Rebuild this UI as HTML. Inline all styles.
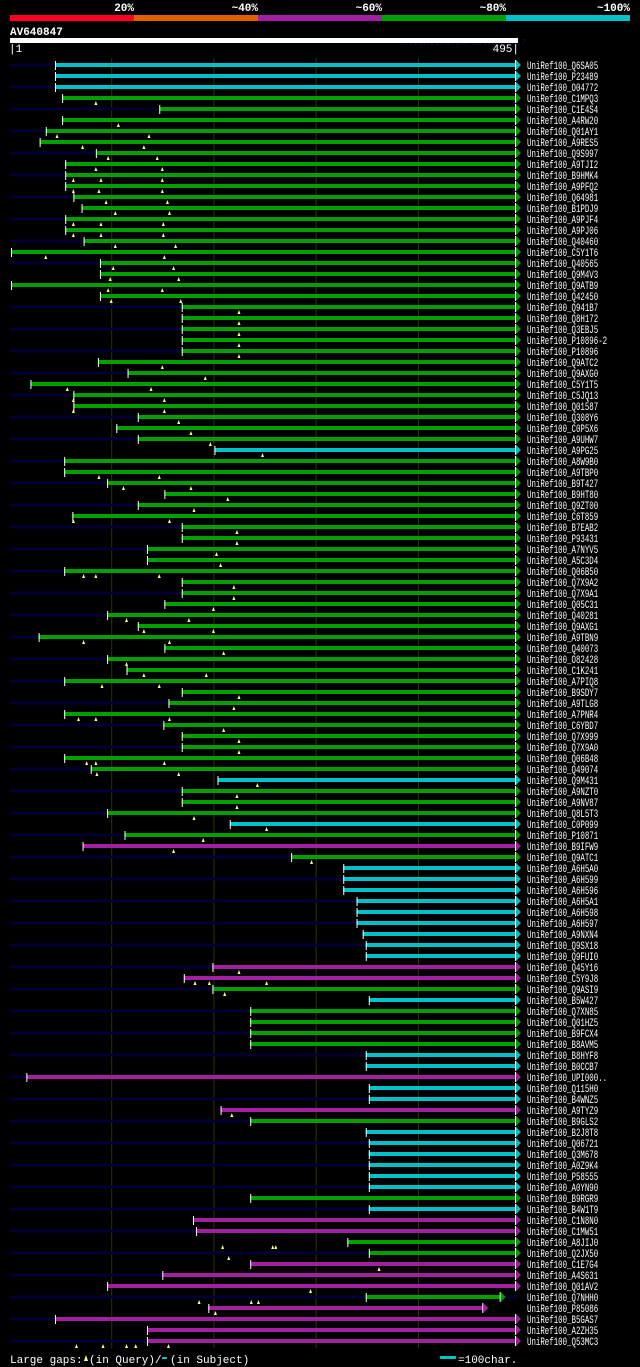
<!DOCTYPE html>
<html><head><meta charset="utf-8"><style>
html,body{margin:0;padding:0;background:#000;}
svg{display:block;}
text{font-family:"Liberation Mono","DejaVu Sans Mono",monospace;fill:#fff;}
</style></head><body>
<svg id="chart" width="640" height="1367" viewBox="0 0 640 1367" xmlns="http://www.w3.org/2000/svg">
<rect x="0" y="0" width="640" height="1367" fill="#000"/>
<g>
<rect x="10" y="15" width="124" height="6" fill="#ff0022"/>
<rect x="134" y="15" width="124" height="6" fill="#e06000"/>
<rect x="258" y="15" width="124" height="6" fill="#a020a0"/>
<rect x="382" y="15" width="124" height="6" fill="#00a000"/>
<rect x="506" y="15" width="124" height="6" fill="#00c0c8"/>
<text x="134" y="11" font-size="11" font-weight="bold" text-anchor="end">20%</text>
<text x="258" y="11" font-size="11" font-weight="bold" text-anchor="end">~40%</text>
<text x="382" y="11" font-size="11" font-weight="bold" text-anchor="end">~60%</text>
<text x="506" y="11" font-size="11" font-weight="bold" text-anchor="end">~80%</text>
<text x="630" y="11" font-size="11" font-weight="bold" text-anchor="end">~100%</text>
</g>
<text x="10" y="35" font-size="11" font-weight="bold">AV640847</text>
<text x="402" y="45" font-size="9" style="fill:#0a1040">AlignView.pm Beta rel.7</text>
<rect x="10" y="38" width="508" height="5" fill="#fff"/>
<text x="9" y="52" font-size="11">|1</text>
<text x="519" y="52" font-size="11" text-anchor="end">495|</text>
<g id="grid"></g>
<g id="rows"></g>
<g>
<text x="10" y="1363" font-size="11">Large gaps:</text>
<polygon points="84,1361 86,1355 88,1361" fill="#ffff80"/>
<text x="89" y="1363" font-size="11">(in Query)/</text>
<rect x="162" y="1357" width="5" height="2" fill="#00c0c8"/>
<text x="170" y="1363" font-size="11">(in Subject)</text>
<rect x="440" y="1356" width="16" height="3" fill="#00c0c8"/>
<text x="458" y="1363" font-size="11">=100char.</text>
</g>
</svg>
<script>
const names=["Q6SA05","P23489","O04772","C1MPQ3","C1E4S4","A4RW20","Q01AY1","A9RES5","Q9S997","A9TJI2","B9HMK4","A9PFQ2","Q64981","B1PDJ9","A9PJF4","A9PJ06","Q40460","C5Y1T6","Q40565","Q9M4V3","Q9ATB9","Q42450","Q941B7","Q8H172","Q3EBJ5","P10896-2","P10896","Q9ATC2","Q9AXG0","C5Y1T5","C5JQ13","Q01587","Q308Y6","C0P5X6","A9UHW7","A9PG25","A8W9B0","A9TBP0","B9T427","B9HT80","Q9ZT00","C6T859","B7EAB2","P93431","A7NYV5","A5C3D4","Q06B50","Q7X9A2","Q7X9A1","Q05C31","Q40281","Q9AXG1","A9TBN9","Q40073","O82428","C1K241","A7PIQ8","B9SDY7","A9TLG8","A7PNR4","C6YBD7","Q7X999","Q7X9A0","Q06B48","Q49074","Q9M431","A9NZT0","A9NV87","Q8L5T3","C0P099","P10871","B9IFW9","Q9ATC1","A6H5A0","A6H599","A6H596","A6H5A1","A6H598","A6H597","A9NXN4","Q9SX18","Q9FUI0","Q45Y16","C5Y9J8","Q9ASI9","B5W427","Q7XN85","Q01HZ5","B9FCX4","B8AVM5","B8HYF8","B0CCB7","UPI000..","Q115H0","B4WNZ5","A9TYZ9","B9GLS2","B2J8T8","Q06721","Q3M678","A0Z9K4","P58555","A0YN90","B9RGR9","B4W1T9","C1N8N0","C1MW51","A8JIJ0","Q2JX50","C1E7G4","A4S631","Q01AV2","Q7NHH0","P85086","B5GAS7","A2ZH35","Q53MC3"];
// alignment start / end in query coordinates (1..495)
const starts=[45,45,45,52,147,52,36,30,85,55,55,55,63,71,55,55,73,2,89,89,2,89,169,169,169,169,169,87,116,21,63,63,126,105,126,201,54,54,96,152,126,62,169,169,135,135,54,169,169,152,96,126,29,152,96,115,54,169,156,54,151,169,169,54,80,204,169,169,96,216,113,72,276,327,327,327,340,340,340,346,349,349,199,171,199,352,236,236,236,236,349,349,17,352,352,207,236,349,352,352,352,352,352,236,352,180,183,331,352,236,150,96,349,195,45,135,135];
const ends=[495,495,495,495,495,495,495,495,495,495,495,495,495,495,495,495,495,495,495,495,495,495,495,495,495,495,495,495,495,495,495,495,495,495,495,495,495,495,495,495,495,495,495,495,495,495,495,495,495,495,495,495,495,495,495,495,495,495,495,495,495,495,495,495,495,495,495,495,495,495,495,495,495,495,495,495,495,495,495,495,495,495,495,495,495,495,495,495,495,495,495,495,495,495,495,495,495,495,495,495,495,495,495,495,495,495,495,495,495,495,495,495,480,463,495,495,495];
// identity class per row: c=cyan, g=green, m=magenta
const classes=("ccc"+"g".repeat(32)+"c"+"g".repeat(29)+"c"+"ggg"+"c"+"g"+"m"+"g"+"c".repeat(9)+"mm"+"g"+"c"+"gggg"+"cc"+"m"+"cc"+"m"+"g"+"cccccc"+"g"+"c"+"mm"+"gg"+"mmm"+"g"+"mmmm").split("");
// large gaps in query (positions in query coordinates)
const qgaps=[[],[],[],[85],[],[107],[47,137],[72,132],[97,145],[85,150],[63,90,150],[63,88,150],[95,155],[104,157],[63,90,151],[63,90,151],[104,163],[36,152],[102,161],[99,166],[97,150],[100,168],[225],[225],[225],[225],[225],[150],[192],[57,139],[63,152],[63,152],[166],[178],[197],[248],[],[88,147],[112,178],[214],[181],[63,157],[223],[223],[203],[207],[73,85,147],[220],[220],[200],[115,176],[132,200],[73,157],[210],[115],[132,193],[91,147],[225],[220],[68,85,157],[210],[225],[225],[76,85,152],[86,166],[243],[223],[223],[181],[252],[190],[161],[296],[],[],[],[],[],[],[],[],[],[225],[182,196,252],[211],[],[],[],[],[],[],[],[],[],[],[218],[],[],[],[],[],[],[],[],[],[],[],[209,258,261],[215],[362],[],[295],[186,237,244],[202],[],[],[66,92,115,124,156]];
const X0=10,X1=518,QMAX=495;
function xs(q){return X0+(q-1)/(QMAX-1)*(X1-X0-3);}
const COL={c:"#00c0c8",g:"#00a000",m:"#a020a0"};
const ns="http://www.w3.org/2000/svg";
function mk(tag,attrs,parent){const e=document.createElementNS(ns,tag);for(const k in attrs)e.setAttribute(k,attrs[k]);parent.appendChild(e);return e;}
const grid=document.getElementById('grid');
[100,200,300,400].forEach(function(q){
  const l=mk('line',{x1:xs(q)+0.5,x2:xs(q)+0.5,y1:58,y2:1348,stroke:'#333300','stroke-width':1},grid);
  
  
});
const rows=document.getElementById('rows');
names.forEach(function(n,i){
  const y=65+i*11;
  const g=mk('g',{},rows);
  
  
  const sx=xs(starts[i]), ex=xs(ends[i]);
  const col=COL[classes[i]];
  if(i%2===0){
    mk('rect',{x:X0,y:y-1.5,width:sx-X0,height:3,fill:'#000033'},g);
    if(ex<X1) mk('rect',{x:ex+6,y:y-1.5,width:X1-ex-6,height:3,fill:'#000033'},g);
  }
  mk('rect',{x:sx,y:y-2,width:ex-sx,height:4,fill:col},g);
  mk('rect',{x:sx,y:y-4,width:1,height:9,fill:'#fff'},g);
  mk('rect',{x:ex,y:y-5,width:1,height:10,fill:'#fff'},g);
  mk('polygon',{points:(ex+1)+','+(y-5)+' '+(ex+6)+','+y+' '+(ex+1)+','+(y+5),fill:col},g);
  qgaps[i].forEach(function(q){
    const tx=xs(q);
    mk('polygon',{points:(tx-1.5)+','+(y+7)+' '+tx+','+(y+3)+' '+(tx+1.5)+','+(y+7),fill:'#ffff80'},g);
  });
  const label='UniRef100_'+n;
  const t=mk('text',{x:527,y:y+4,'font-size':11,textLength:(label.length*4.45).toFixed(1),lengthAdjust:'spacingAndGlyphs'},g);
  t.textContent=label;
});
</script>
</body></html>
